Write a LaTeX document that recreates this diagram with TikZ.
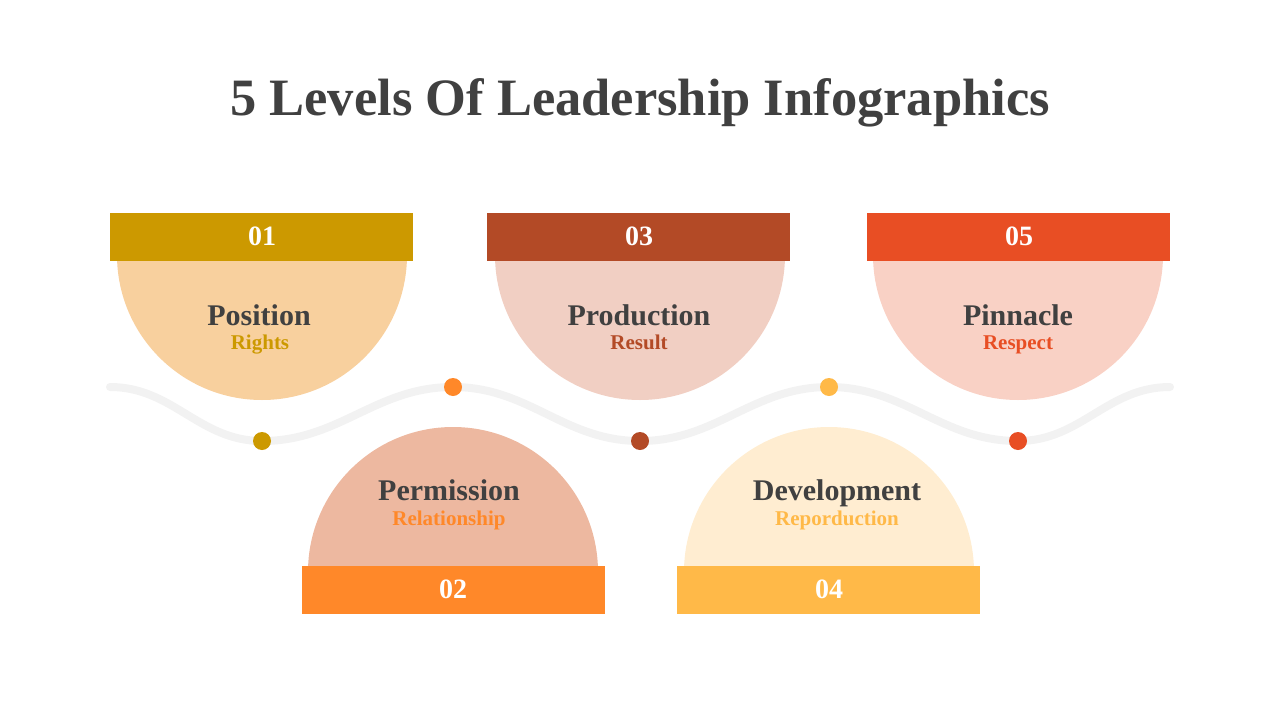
\documentclass[tikz,border=0pt]{standalone}
\usepackage{fontspec}
\setmainfont{Liberation Serif}
\usetikzlibrary{positioning}
\definecolor{titlegray}{HTML}{404040}
\definecolor{wavegray}{HTML}{F2F2F2}
\definecolor{gold}{HTML}{CC9900}
\definecolor{orangeA}{HTML}{FF8829}
\definecolor{rust}{HTML}{B34A26}
\definecolor{amber}{HTML}{FFB948}
\definecolor{vermil}{HTML}{E84E24}
\definecolor{discA}{HTML}{F8D09E}
\definecolor{discB}{HTML}{EDB8A0}
\definecolor{discC}{HTML}{F1CFC3}
\definecolor{discD}{HTML}{FFEDD1}
\definecolor{discE}{HTML}{F9D1C5}
\tikzset{
    numbox/.style={rectangle,fill=#1,minimum width=303pt,minimum height=48pt,inner sep=0pt},
    numtext/.style={anchor=base,inner sep=0pt,text=white,font=\fontsize{28}{30}\selectfont\bfseries},
    heading/.style={anchor=base,text=titlegray,font=\fontsize{30}{32}\selectfont\bfseries,inner sep=0pt},
    subhead/.style={anchor=base,text=#1,font=\fontsize{21}{23}\selectfont\bfseries,inner sep=0pt},
    dot/.style={circle,fill=#1,minimum size=18pt,inner sep=0pt}
}

\begin{document}
\begin{tikzpicture}[x=1pt,y=-1pt]
    \useasboundingbox (0,0) rectangle (1280,720);

    \node [anchor=base,inner sep=0pt,text=titlegray,font=\fontsize{52.5}{56}\selectfont\bfseries] (title) at (640,115) {5 Levels Of Leadership Infographics};

    \fill [discA] (117,255) arc[start angle=180,end angle=0,radius=145] -- cycle;
    \fill [discC] (495,255) arc[start angle=180,end angle=0,radius=145] -- cycle;
    \fill [discE] (873,255) arc[start angle=180,end angle=0,radius=145] -- cycle;
    \fill [discB] (308,572) arc[start angle=180,end angle=360,radius=145] -- cycle;
    \fill [discD] (684,572) arc[start angle=180,end angle=360,radius=145] -- cycle;

    \coordinate (w0) at (110,387);
    \coordinate (p1) at (262,441);
    \coordinate (p2) at (453,387);
    \coordinate (p3) at (640,441);
    \coordinate (p4) at (829,387);
    \coordinate (p5) at (1018,441);
    \coordinate (w6) at (1170,387);
    \draw [wavegray,line width=8pt,line cap=round] (w0) to[out=0,in=180] (p1) to[out=0,in=180] (p2)
        to[out=0,in=180] (p3) to[out=0,in=180] (p4) to[out=0,in=180] (p5) to[out=0,in=180] (w6);

    \node [dot=gold] (d1) at (p1) {};
    \node [dot=orangeA] (d2) at (p2) {};
    \node [dot=rust] (d3) at (p3) {};
    \node [dot=amber] (d4) at (p4) {};
    \node [dot=vermil] (d5) at (p5) {};

    \node [numbox=gold] (n1) at (261.5,237) {};
    \node [numbox=rust] (n3) at (638.5,237) {};
    \node [numbox=vermil] (n5) at (1018.5,237) {};
    \node [numbox=orangeA] (n2) at (453.5,590) {};
    \node [numbox=amber] (n4) at (828.5,590) {};
    \node [numtext] (t1) at (262,245) {01};
    \node [numtext] (t3) at (639,245) {03};
    \node [numtext] (t5) at (1019,245) {05};
    \node [numtext] (t2) at (453,598) {02};
    \node [numtext] (t4) at (829,598) {04};

    \node [heading] (h1) at (259,325) {Position};
    \node [subhead=gold] (s1) at (260,349) {Rights};
    \node [heading] (h3) at (639,325) {Production};
    \node [subhead=rust] (s3) at (639,349) {Result};
    \node [heading] (h5) at (1018,325) {Pinnacle};
    \node [subhead=vermil] (s5) at (1018,349) {Respect};
    \node [heading] (h2) at (449,500) {Permission};
    \node [subhead=orangeA] (s2) at (449,525) {Relationship};
    \node [heading] (h4) at (837,500) {Development};
    \node [subhead=amber] (s4) at (837,525) {Reporduction};
\end{tikzpicture}
\end{document}
